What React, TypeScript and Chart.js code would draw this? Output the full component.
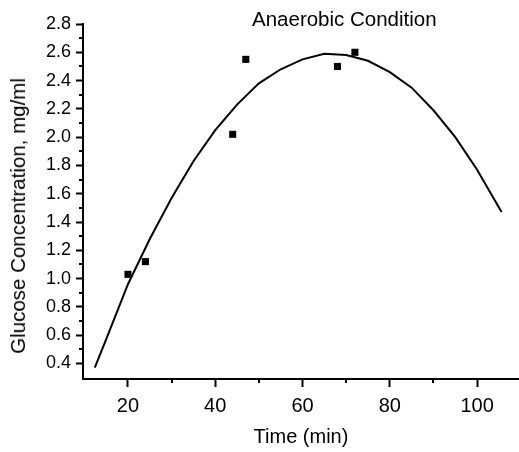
import React, { useEffect, useRef } from "react";
import { Chart, registerables } from "chart.js";

Chart.register(...registerables);

// Measured samples
const timePoints = [20, 24, 44, 47, 68, 72];
const glucosePoints = [1.03, 1.12, 2.02, 2.55, 2.5, 2.6];

// Fitted curve
const fitTime = [12.4, 15, 20, 25, 30, 35, 40, 45, 50, 55, 60, 65, 70, 75, 80, 85, 90, 95, 100, 105.6];
const fitGlucose = [0.37, 0.57, 0.96, 1.28, 1.57, 1.83, 2.05, 2.23, 2.38, 2.48, 2.55, 2.59, 2.58, 2.54, 2.46, 2.35, 2.19, 2.0, 1.77, 1.47];

// Axis ticks
const xMajorTicks = [20, 40, 60, 80, 100];
const xMinorTicks = [30, 50, 70, 90];
const yMajorTicks = [0.4, 0.6, 0.8, 1.0, 1.2, 1.4, 1.6, 1.8, 2.0, 2.2, 2.4, 2.6, 2.8];
const yMinorTicks = [0.5, 0.7, 0.9, 1.1, 1.3, 1.5, 1.7, 1.9, 2.1, 2.3, 2.5, 2.7];

const chartTitle = "Anaerobic Condition";
const xTitle = "Time (min)";
const yTitle = "Glucose Concentration, mg/ml";

const FONT = "'Liberation Sans', Arial, sans-serif";

const minorTicksPlugin = {
  id: "minorTicks",
  afterDraw(chart: any) {
    const { ctx } = chart;
    const x = chart.scales.x;
    const y = chart.scales.y;
    ctx.save();
    ctx.strokeStyle = "#000";
    ctx.lineWidth = 2;
    ctx.beginPath();
    xMinorTicks.forEach((v) => {
      const px = Math.round(x.getPixelForValue(v));
      ctx.moveTo(px, x.top);
      ctx.lineTo(px, x.top + 4);
    });
    yMinorTicks.forEach((v) => {
      const py = Math.round(y.getPixelForValue(v));
      ctx.moveTo(y.right, py);
      ctx.lineTo(y.right - 4, py);
    });
    ctx.stroke();
    ctx.restore();
  },
};

export default function App() {
  const ref = useRef<HTMLCanvasElement>(null);

  useEffect(() => {
    if (!ref.current) return;
    Chart.defaults.font.family = FONT;
    Chart.defaults.color = "#000";
    const chart = new Chart(ref.current, {
      type: "scatter",
      data: {
        datasets: [
          {
            type: "scatter",
            label: "Data",
            data: timePoints.map((t, i) => ({ x: t, y: glucosePoints[i] })),
            pointStyle: "rect",
            pointRadius: 5,
            backgroundColor: "#000",
            borderColor: "#000",
            borderWidth: 0,
          },
          {
            type: "line",
            label: "Fit",
            data: fitTime.map((t, i) => ({ x: t, y: fitGlucose[i] })),
            borderColor: "#000",
            borderWidth: 2,
            pointRadius: 0,
            fill: false,
            tension: 0,
          },
        ],
      } as any,
      options: {
        responsive: false,
        animation: false,
        devicePixelRatio: 1,
        layout: { autoPadding: false, padding: { top: 24, right: 0, bottom: 0, left: 0 } },
        plugins: {
          legend: { display: false },
          tooltip: { enabled: false },
          title: { display: false },
        },
        scales: {
          x: {
            type: "linear",
            min: 9.7,
            max: 109.6,
            afterBuildTicks: (s: any) => {
              s.ticks = xMajorTicks.map((v) => ({ value: v }));
            },
            afterFit: (s: any) => {
              s.height = 73;
              s.paddingLeft = 0;
              s.paddingRight = 0;
            },
            grid: {
              display: true,
              drawOnChartArea: false,
              drawTicks: true,
              tickLength: 8,
              tickWidth: 2,
              tickColor: "#000",
            },
            border: { display: true, color: "#000", width: 2 },
            ticks: {
              color: "#000",
              font: { size: 20, family: FONT },
              padding: 7,
              maxRotation: 0,
              autoSkip: false,
              callback: (v: any) => String(v),
            },
            title: {
              display: true,
              text: xTitle,
              color: "#000",
              font: { size: 20, family: FONT },
              padding: { top: 0, bottom: 3 },
            },
          },
          y: {
            type: "linear",
            min: 0.29,
            max: 2.8,
            afterBuildTicks: (s: any) => {
              s.ticks = yMajorTicks.map((v) => ({ value: v }));
            },
            afterFit: (s: any) => {
              s.width = 83;
              s.paddingTop = 0;
              s.paddingBottom = 0;
            },
            grid: {
              display: true,
              drawOnChartArea: false,
              drawTicks: true,
              tickLength: 7,
              tickWidth: 2,
              tickColor: "#000",
            },
            border: { display: true, color: "#000", width: 2 },
            ticks: {
              color: "#000",
              font: { size: 18, family: FONT },
              padding: 5,
              autoSkip: false,
              callback: (v: any) => Number(v).toFixed(1),
            },
            title: { display: false },
          },
        },
      } as any,
      plugins: [minorTicksPlugin],
    });
    return () => chart.destroy();
  }, []);

  return (
    <div
      style={{
        position: "fixed",
        left: 0,
        top: 0,
        width: 519,
        height: 452,
        background: "#fff",
        overflow: "hidden",
      }}
    >
      <canvas ref={ref} width={519} height={452} style={{ display: "block", width: 519, height: 452 }} />
      <div
        style={{
          position: "absolute",
          left: 252,
          top: 7,
          fontFamily: FONT,
          fontSize: 20.5,
          color: "#000",
          whiteSpace: "nowrap",
          lineHeight: "normal",
        }}
      >
        {chartTitle}
      </div>
      <div
        style={{
          position: "absolute",
          left: 6,
          top: 216,
          fontFamily: FONT,
          fontSize: 20.5,
          color: "#000",
          whiteSpace: "nowrap",
          lineHeight: "normal",
          writingMode: "vertical-rl",
          transform: "translateY(-50%) rotate(180deg)",
        }}
      >
        {yTitle}
      </div>
    </div>
  );
}
